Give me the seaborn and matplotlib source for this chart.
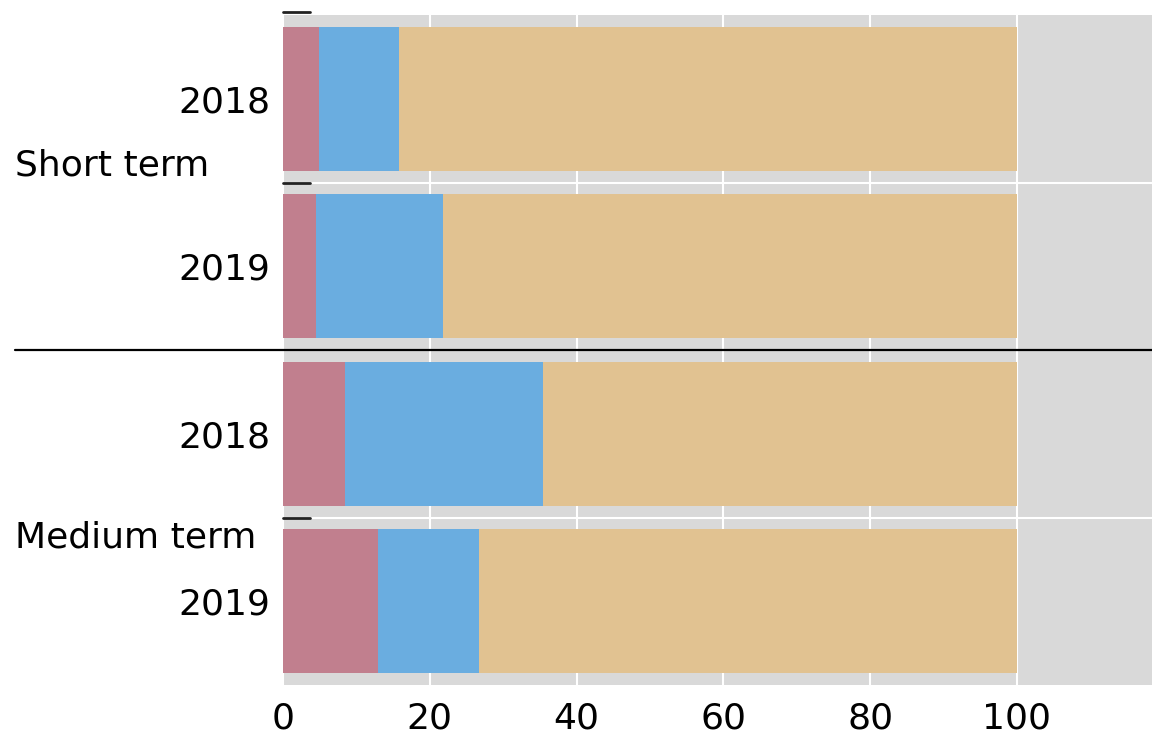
import numpy as np
import pandas as pd
import matplotlib
matplotlib.use("Agg")
import matplotlib.pyplot as plt
import seaborn as sns

# data (shares in %, stacked to 100)
groups = ["Short term", "Short term", "Medium term", "Medium term"]
years = ["2018", "2019", "2018", "2019"]
seg_pink = [4.9, 4.5, 8.4, 12.9]
seg_blue = [10.9, 17.3, 27.0, 13.8]
seg_tan = [84.2, 78.2, 64.6, 73.3]
x_ticks = [0, 20, 40, 60, 80, 100]

pink = "#c17f8e"
blue = "#6aade0"
tan = "#e1c291"
bg = "#d9d9d9"

df = pd.DataFrame({"group": groups, "year": years,
                   "pink": seg_pink, "blue": seg_blue, "tan": seg_tan})
df["bar"] = df["group"] + " " + df["year"]
df["c1"] = df["pink"]
df["c2"] = df["pink"] + df["blue"]
df["c3"] = df["c2"] + df["tan"]
order = list(df["bar"])

sns.set_style("white")
plt.rcParams["font.family"] = ["DejaVu Sans"]
plt.rcParams["text.color"] = "black"
plt.rcParams["xtick.color"] = "black"
plt.rcParams["ytick.color"] = "black"

fig = plt.figure(figsize=(11.52, 7.41), dpi=100)
ax = fig.add_axes([283 / 1152, 1 - 685 / 741, 1 - 283 / 1152, (685 - 15) / 741])
ax.set_facecolor(bg)

# stacked by overdrawing cumulative totals
for col, c in [("c3", tan), ("c2", blue), ("c1", pink)]:
    sns.barplot(data=df, x=col, y="bar", order=order, color=c, saturation=1,
                width=0.86, orient="h", ax=ax, zorder=3)
for p in ax.patches:
    p.set_edgecolor("none")
    p.set_linewidth(0)

ax.set_xlim(0, 118.4)
ax.set_ylim(3.5, -0.5)
ax.set_xticks(x_ticks)
ax.set_xticklabels([str(t) for t in x_ticks], fontsize=26)
ax.set_yticks(range(len(years)))
ax.set_yticklabels(years, fontsize=26)
ax.tick_params(axis="both", length=0)
ax.tick_params(axis="y", pad=9)
ax.tick_params(axis="x", pad=12)
ax.set_xlabel("")
ax.set_ylabel("")

# white grid: vertical at ticks, horizontal between bars of a group
ax.grid(axis="x", color="white", linewidth=1.5, zorder=1)
ax.set_axisbelow(True)
for yb in [0.5, 2.5]:
    ax.axhline(yb, color="white", linewidth=1.5, zorder=1)

for s in ax.spines.values():
    s.set_visible(False)

# group separator and small group ticks
trans = ax.get_yaxis_transform()
ax.plot([-268 / 869, 1.0], [1.5, 1.5], color="black", linewidth=1.6,
        transform=trans, clip_on=False, zorder=5)
for yb in [-0.52, 0.5, 2.5]:
    ax.plot([0, 27 / 869], [yb, yb], color="#222222",
            linewidth=2, transform=trans, clip_on=False, zorder=5)

# group labels
fig.text(15 / 1152, 1 - 165 / 741, "Short term", fontsize=26,
         ha="left", va="center")
fig.text(15 / 1152, 1 - 537 / 741, "Medium term", fontsize=26,
         ha="left", va="center")

fig.savefig("out.png", dpi=100)
